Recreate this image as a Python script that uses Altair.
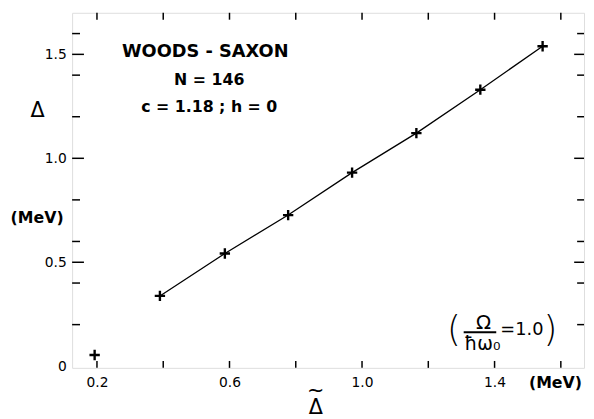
import altair as alt
import pandas as pd

# Data
delta_tilde = [0.193, 0.390, 0.586, 0.777, 0.970, 1.164, 1.357, 1.545]
delta = [0.054, 0.338, 0.542, 0.727, 0.931, 1.121, 1.330, 1.539]
line_x = delta_tilde[1:]
line_y = delta[1:]

x_tick_labels = [0.2, 0.6, 1.0, 1.4]
y_tick_labels = [0.0, 0.5, 1.0, 1.5]
x_ticks = [0.2, 0.4, 0.6, 0.8, 1.0, 1.2, 1.4, 1.6]
y_major = [0.5, 1.0, 1.5]
y_minor = [0.2, 0.4, 0.6, 0.8, 1.2, 1.4, 1.6]

W, H = 519, 360
FONT = "DejaVu Sans"

xs = alt.Scale(domain=[0.125, 1.67], nice=False, zero=False)
ys = alt.Scale(domain=[-0.008, 1.7], nice=False, zero=False)
x_axis = alt.Axis(values=x_tick_labels, title=None, grid=False, ticks=False, domain=False,
                  labelFont=FONT, labelFontSize=14, labelColor="black", labelPadding=8,
                  labelExpr="format(datum.value, '.1f')")
y_axis = alt.Axis(values=y_tick_labels, title=None, grid=False, ticks=False, domain=False,
                  labelFont=FONT, labelFontSize=14, labelColor="black", labelPadding=6,
                  labelExpr="datum.value == 0 ? '0' : format(datum.value, '.1f')")


def X(f):
    return alt.X(f, type="quantitative", scale=xs, axis=x_axis)


def Y(f):
    return alt.Y(f, type="quantitative", scale=ys, axis=y_axis)


pts = pd.DataFrame({"x": delta_tilde, "y": delta})
ln = pd.DataFrame({"x": line_x, "y": line_y})

line = alt.Chart(ln).mark_line(color="black", strokeWidth=1.3).encode(x=X("x"), y=Y("y"))
crosses = alt.Chart(pts).mark_point(
    shape="M-1,0L1,0M0,-1L0,1", size=110, filled=False, color="black", strokeWidth=2.4, opacity=1
).encode(x=X("x"), y=Y("y"))

xt = pd.DataFrame({"t": x_ticks})
ymaj = pd.DataFrame({"t": y_major})
ymin = pd.DataFrame({"t": y_minor})
tk = dict(color="black", strokeWidth=1.5)
ticks = [
    alt.Chart(xt).mark_rule(**tk).encode(x=X("t"), y=alt.value(H), y2=alt.value(H - 7)),
    alt.Chart(xt).mark_rule(**tk).encode(x=X("t"), y=alt.value(0), y2=alt.value(7)),
    alt.Chart(ymaj).mark_rule(**tk).encode(y=Y("t"), x=alt.value(0), x2=alt.value(12)),
    alt.Chart(ymin).mark_rule(**tk).encode(y=Y("t"), x=alt.value(0), x2=alt.value(8)),
    alt.Chart(ymaj).mark_rule(**tk).encode(y=Y("t"), x=alt.value(W), x2=alt.value(W - 10)),
    alt.Chart(ymin).mark_rule(**tk).encode(y=Y("t"), x=alt.value(W), x2=alt.value(W - 7)),
]

one = pd.DataFrame({"a": [0]})


def txt(s, x, y, size, bold=False, weight=None, font=FONT, **kw):
    w = weight if weight is not None else ("bold" if bold else "normal")
    return alt.Chart(one).mark_text(
        text=s, font=font, fontSize=size, fontWeight=w,
        color="black", align="center", baseline="middle", **kw
    ).encode(x=alt.value(x), y=alt.value(y))


texts = [
    txt("WOODS - SAXON", 135, 40, 18, True),
    txt("N = 146", 139, 68, 16, True),
    txt("c = 1.18 ; h = 0", 139, 96, 16, True),
    txt("Δ", -35, 100, 21),
    txt("(MeV)", -35.5, 208, 16, True),
    txt(["~", "Δ"], 247, 384, 21, lineHeight=17),
    txt("(MeV)", 490, 375.5, 16, True),
    txt("(", 387, 322, 36, weight=200),
    txt("Ω", 417, 315, 20),
    txt("ħω₀", 416, 336, 19),
    txt("=1.0", 456, 322, 18),
    txt(")", 485, 322, 36, weight=200),
]
frac = alt.Chart(one).mark_rule(color="black", strokeWidth=2).encode(
    x=alt.value(397), x2=alt.value(430), y=alt.value(324)
)

chart = alt.layer(line, crosses, *ticks, *texts, frac).properties(
    width=W, height=H,
    autosize=alt.AutoSizeParams(type="none"),
    padding={"left": 65, "top": 2, "right": 2, "bottom": 49},
).configure_view(stroke="black", strokeWidth=1.5).configure(background="white")

chart.save("out.html", embed_options={"renderer": "svg", "actions": False})
